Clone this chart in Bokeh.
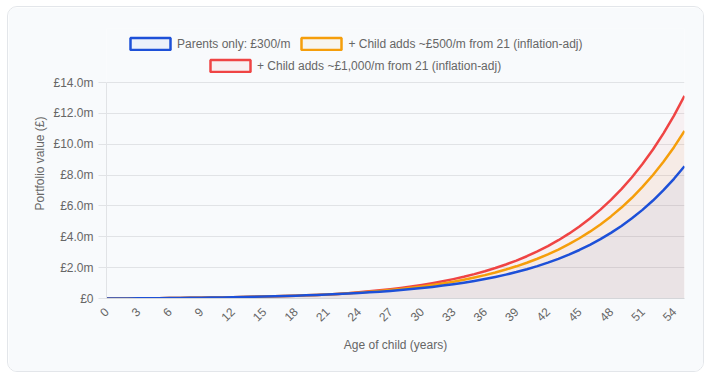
from bokeh.plotting import figure
from bokeh.models import Range1d, FixedTicker, Legend, LegendItem
from bokeh.embed import file_html
from bokeh.resources import INLINE
import math

# ---- data (portfolio value in £ millions, by age of child) ----
ages = list(range(0, 56))

parents_only = [0, 0.0038, 0.0079, 0.0125, 0.0176, 0.0232, 0.0294, 0.0363, 0.0439, 0.0522,
                0.0615, 0.0717, 0.0829, 0.0954, 0.1091, 0.1243, 0.1411, 0.1597, 0.1802, 0.2028,
                0.2278, 0.2554, 0.2859, 0.3196, 0.3569, 0.3980, 0.4435, 0.4937, 0.5491, 0.6104,
                0.6781, 0.7529, 0.8355, 0.9268, 1.0276, 1.1389, 1.2619, 1.3978, 1.5480, 1.7139,
                1.8971, 2.0995, 2.3231, 2.5702, 2.8430, 3.1445, 3.4775, 3.8455, 4.2519, 4.7009,
                5.1970, 5.7450, 6.3500, 7.0190, 7.7580, 8.5740]

child_500 = [0, 0.0038, 0.0079, 0.0125, 0.0176, 0.0232, 0.0294, 0.0363, 0.0439, 0.0522,
             0.0615, 0.0717, 0.0829, 0.0954, 0.1091, 0.1243, 0.1411, 0.1597, 0.1802, 0.2028,
             0.2278, 0.2554, 0.2926, 0.3339, 0.3796, 0.4303, 0.4865, 0.5488, 0.6177, 0.6941,
             0.7787, 0.8724, 0.9760, 1.0908, 1.2177, 1.3582, 1.5136, 1.6855, 1.8757, 2.0860,
             2.3187, 2.5759, 2.8603, 3.1748, 3.5225, 3.9069, 4.3318, 4.8016, 5.3208, 5.8948,
             6.5292, 7.2304, 8.0049, 8.8616, 9.8082, 10.854]

child_1000 = [0, 0.0038, 0.0079, 0.0125, 0.0176, 0.0232, 0.0294, 0.0363, 0.0439, 0.0522,
              0.0615, 0.0717, 0.0829, 0.0954, 0.1091, 0.1243, 0.1411, 0.1597, 0.1802, 0.2028,
              0.2278, 0.2554, 0.2993, 0.3481, 0.4023, 0.4626, 0.5295, 0.6039, 0.6863, 0.7778,
              0.8793, 0.9919, 1.1165, 1.2548, 1.4079, 1.5775, 1.7653, 1.9732, 2.2034, 2.4582,
              2.7403, 3.0523, 3.3975, 3.7795, 4.2020, 4.6693, 5.1861, 5.7578, 6.3897, 7.0887,
              7.8614, 8.7158, 9.6598, 10.7042, 11.8584, 13.134]

series_names = ["Parents only: £300/m",
                "+ Child adds ~£500/m from 21 (inflation-adj)",
                "+ Child adds ~£1,000/m from 21 (inflation-adj)"]

x_ticks = list(range(0, 55, 3))
y_ticks = [0, 2, 4, 6, 8, 10, 12, 14]
y_tick_labels = ["£0", "£2.0m", "£4.0m", "£6.0m", "£8.0m", "£10.0m", "£12.0m", "£14.0m"]

# ---- styles ----
BLUE = "#1d50d8"
ORANGE = "#f59e0b"
RED = "#ef4444"
BG = "#f8fafc"
GRID = "#e1e3e6"
TXT = "#666666"
FONT = "Liberation Sans"
NAN = float("nan")

# frame extends above the £14m line to hold the legend rows; axis is bounded to 0..14
p = figure(width=697, height=366, output_backend="svg", toolbar_location=None,
           x_range=Range1d(0, 55), y_range=Range1d(0, 17.5),
           min_border_left=98, min_border_right=21, min_border_top=21, min_border_bottom=75,
           background_fill_color=BG, border_fill_color=BG, outline_line_color=None)
p.styles = {"border": "1px solid #e3e6ea", "border-radius": "10px", "overflow": "hidden",
            "margin-left": "7px", "margin-top": "6px"}

# fills (drawn last dataset first)
series = [(parents_only, BLUE), (child_500, ORANGE), (child_1000, RED)]
for vals, col in reversed(series):
    p.varea(x=ages, y1=[0] * len(ages), y2=vals, fill_color=col, fill_alpha=0.05)
for vals, col in reversed(series):
    p.line(x=ages, y=vals, line_color=col, line_width=2.5, line_join="round")

# placeholder renderers that only give the legend its boxes
boxes = []
for vals, col in series:
    boxes.append(p.quad(left=[NAN], right=[NAN], top=[NAN], bottom=[NAN],
                        fill_color=col, fill_alpha=0.05, line_color=col, line_width=2.5))

def make_legend(items, loc):
    return Legend(items=items, orientation="horizontal", location=loc,
                  glyph_width=50, glyph_height=15, label_standoff=2, spacing=6,
                  padding=0, margin=0, border_line_color=None, background_fill_alpha=0,
                  label_text_font=FONT, label_text_font_size="12px", label_text_color=TXT,
                  label_height=15)

lg1 = make_legend([LegendItem(label=series_names[0], renderers=[boxes[0]]),
                   LegendItem(label=series_names[1], renderers=[boxes[1]])], (19, 247))
lg2 = make_legend([LegendItem(label=series_names[2], renderers=[boxes[2]])], (99, 225))
p.add_layout(lg1)
p.add_layout(lg2)

# axes
p.xaxis.ticker = FixedTicker(ticks=x_ticks)
p.xaxis.major_label_orientation = math.pi / 4
p.xaxis.major_tick_line_color = None
p.xaxis.minor_tick_line_color = None
p.xaxis.axis_line_color = "#d4d6d9"
p.xaxis.axis_label = "Age of child (years)"
p.xaxis.axis_label_standoff = 10

p.yaxis.ticker = FixedTicker(ticks=y_ticks)
p.yaxis.bounds = (0, 14)
p.yaxis.major_label_overrides = {t: lab for t, lab in zip(y_ticks, y_tick_labels)}
p.yaxis.major_tick_in = 0
p.yaxis.major_tick_out = 8
p.yaxis.major_tick_line_color = GRID
p.yaxis.minor_tick_line_color = None
p.yaxis.axis_line_color = GRID
p.yaxis.axis_label = "Portfolio value (£)"
p.yaxis.axis_label_standoff = 3

for ax in (p.xaxis[0], p.yaxis[0]):
    ax.major_label_text_font = FONT
    ax.major_label_text_font_size = "12px"
    ax.major_label_text_color = TXT
    ax.axis_label_text_font = FONT
    ax.axis_label_text_font_size = "12px"
    ax.axis_label_text_font_style = "normal"
    ax.axis_label_text_color = TXT

p.xgrid.visible = False
p.ygrid.grid_line_color = GRID
p.ygrid.bounds = (0, 14)

open("out.html", "w").write(file_html(p, INLINE))
